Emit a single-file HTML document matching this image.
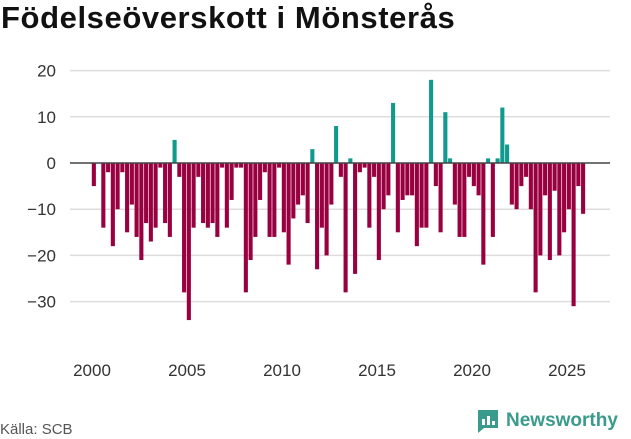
<!DOCTYPE html>
<html><head><meta charset="utf-8"><style>
body{margin:0;width:631px;height:439px;background:#fff;font-family:"Liberation Sans",sans-serif;overflow:hidden;position:relative}
#title{position:absolute;left:1px;top:0px;font-size:31px;font-weight:bold;color:#111;letter-spacing:0.6px}
#src{position:absolute;left:0;top:421px;font-size:15px;color:#555}
#logo{position:absolute;left:476px;top:408px;display:flex;align-items:center;gap:6px;color:#3a9b8d;font-weight:bold;font-size:19px}
</style></head><body>
<div id="title">Födelseöverskott i Mönsterås</div>
<svg id="chart" width="631" height="439" style="position:absolute;left:0;top:0"></svg>
<div id="src">Källa: SCB</div>
<div id="logo"><svg width="24" height="26" viewBox="0 0 24 26"><path d="M2 2h20v18H8l-6 5z" fill="#3a9b8d"/><rect x="6" y="11" width="3" height="6" fill="#fff"/><rect x="11" y="8" width="3" height="9" fill="#fff"/><rect x="16" y="13" width="3" height="4" fill="#fff"/></svg>Newsworthy</div>
<script>
const startYear = 2000;
const values = [-5,0,-14,-2,-18,-10,-2,-15,-9,-16,-21,-13,-17,-14,-1,-13,-16,5,-3,-28,-34,-14,-3,-13,-14,-13,-16,-1,-14,-8,-1,-1,-28,-21,-16,-8,-2,-16,-16,-1,-15,-22,-12,-9,-7,-13,3,-23,-14,-20,-9,8,-3,-28,1,-24,-2,-1,-14,-3,-21,-10,-7,13,-15,-8,-7,-7,-18,-14,-14,18,-5,-15,11,1,-9,-16,-16,-3,-5,-7,-22,1,-16,1,12,4,-9,-10,-5,-3,-10,-28,-20,-7,-21,-6,-20,-15,-10,-31,-5,-11];
const yTicks = [20,10,0,-10,-20,-30];
const xTicks = [2000,2005,2010,2015,2020,2025];
const ns="http://www.w3.org/2000/svg", svg=document.getElementById('chart');
const y=v=>163-v*4.62, x=t=>92+(t-2000)*19;
function mk(tag,a){const e=document.createElementNS(ns,tag);for(const k in a)e.setAttribute(k,a[k]);svg.appendChild(e);return e;}
yTicks.forEach(t=>{
 if(t!==0){const g=mk('line',{x1:70,x2:610,y1:y(t),y2:y(t),stroke:'#ddd','stroke-width':1.5});
 
 }
 const l=mk('text',{x:56,y:y(t)+6,'text-anchor':'end','font-size':17,fill:'#333'});
 
 
 l.textContent=t<0?'−'+(-t):t;
});
values.forEach((v,i)=>{
 const xx=x(startYear+i/4)-0.2;
 const r=mk('rect',{x:xx,width:4.1,y:Math.min(y(v),y(0)),height:Math.abs(y(v)-y(0)),fill:v>=0?'#109a8d':'#990040'});
 
 
});
const z=mk('line',{x1:70,x2:610,y1:y(0),y2:y(0),stroke:'#444','stroke-width':1.5});


xTicks.forEach(t=>{
 const l=mk('text',{x:x(t),y:376,'text-anchor':'middle','font-size':17,fill:'#333'});
 
 
 l.textContent=t;
});
</script>
</body></html>
